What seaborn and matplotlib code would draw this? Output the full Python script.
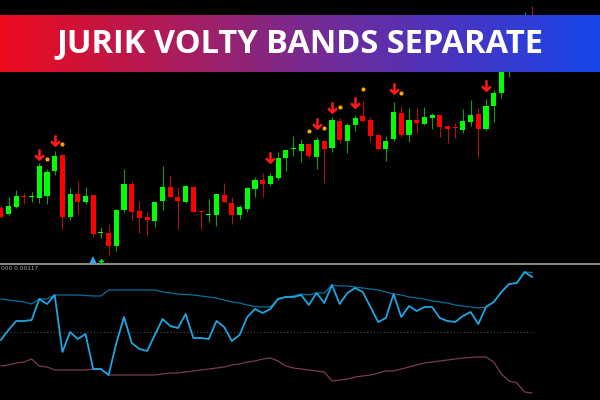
import numpy as np
import pandas as pd
import matplotlib
matplotlib.use("Agg")
import matplotlib.pyplot as plt
from matplotlib.path import Path
from matplotlib.colors import LinearSegmentedColormap
from matplotlib.lines import Line2D
import seaborn as sns

# -----------------------------
# Data
# -----------------------------
# price pane (units ~ pixels above the pane bottom)
opens = [55, 49, 56, 66.5, 66, 65, 67, 92, 108, 46, 69, 61, 68, 30, 30, 17, 53, 79, 52, 46,
         42, 62, 76, 66, 61, 76, 51.5, 48, 48, 68, 60, 48, 54, 74, 83, 79, 85, 105, 114, 112,
         119, 106, 122, 115, 142, 122, 138, 147, 143, 128, 114, 124, 150, 128, 143, 139, 145, 148, 137, 135.5,
         133, 141, 149, 134, 157, 170, 195, 215, 233, 247]
highs = [57, 66, 73, 70, 71, 100, 94, 112, 108, 75, 82, 76, 68, 36, 39, 54, 94, 82, 62, 51,
         62, 97, 88, 76, 78, 76, 53, 64, 69, 80, 66, 58, 76, 86, 90, 90, 111, 113, 127, 124,
         120, 126, 122, 146, 145, 140, 148, 162, 146, 128, 127, 161, 157, 155, 156, 156, 150, 148, 138, 140,
         154, 163, 155, 164, 173, 208, 221, 241, 251, 257]
lows = [45, 48, 55, 59, 61, 60, 59, 88, 34, 43, 49, 59, 26, 25, 8, 12, 51, 43, 30, 27,
        36, 53, 66, 34, 60, 51, 34, 41, 37, 61, 39, 44, 51, 66, 66, 77, 83, 92, 107, 101,
        105, 94, 80, 111, 120, 110, 132, 141, 121, 114, 102, 122, 126, 121, 130, 138, 134, 126, 120, 125,
        130, 137, 106, 133, 141, 165, 186, 211, 229, 235]
closes = [46, 57, 67, 66, 66.5, 97, 91, 107, 46, 69, 61, 67, 29, 30.5, 17, 53, 79, 51, 45, 43,
          61, 76, 66, 62, 77, 51, 51, 48.5, 69, 61, 48, 56, 75, 83, 79, 87, 105, 113, 114.5, 119,
          107, 123, 114, 143, 123, 138, 145, 142, 127, 114, 122, 151, 128, 143, 140, 146, 148, 136, 134, 135,
          142, 148, 134, 157, 170, 201, 215, 235, 245, 239]

# signal markers: bar index and level
sell_arrow_bars = [5, 7, 35, 41, 43, 46, 51, 63]
sell_arrow_levels = [109, 123, 106, 140, 156, 161, 175, 178]
dot_bars = [6, 8, 40, 42, 44, 47, 52]
dot_levels = [104, 119, 132, 135, 156, 174, 170]
buy_arrow_bars = [12]
buy_arrow_levels = [3]
buy_dot_bars = [13]
buy_dot_levels = [2]

# indicator pane (units ~ pixels above the dotted zero line)
volty_line = [-8, 2, 11, 11, 12, 33, 28, 37, -20, 0, -7, -2, -37, -37, -43, -11, 15, -11, -17, -19,
              -3, 13, 6, 4, 18, -6, -6, -7, 11, 5, -9, -3, 15, 23, 19, 23, 33, 35, 35, 37,
              27, 39, 29, 47, 28, 39, 44, 40, 25, 10, 14, 38, 15, 26, 21, 25, 25, 14, 11, 10,
              16, 20, 8, 25, 30, 40, 48, 49, 60, 55]
upper_band = [33, 32, 31, 30, 28, 33, 33, 37, 37, 37, 37, 36.5, 36, 36, 42, 42, 42, 42, 42, 42,
              42, 40, 39, 38, 37.5, 37, 36, 35, 34, 32, 30, 29, 27, 25.5, 25, 25, 33, 35, 36, 38,
              37, 39, 39, 47, 46, 46, 45, 44, 43, 42, 40, 38, 37, 35, 34, 33, 31, 30, 29, 27,
              26, 25, 24, 25, 30, 40, 48, 49, 60, 59.5]
lower_band = [-34, -33, -31, -30, -27, -34, -35, -38, -38, -38, -38, -38, -37, -37, -43, -43, -43, -43, -43, -43,
              -43, -42, -41, -41, -40, -39, -38, -37, -36, -35, -33, -32, -30, -29, -27, -26, -29, -34, -36, -37,
              -38, -39, -40, -49, -48, -47, -45, -44, -43, -41, -39, -39, -37, -35, -33, -31, -30, -29, -28, -27,
              -26, -25.5, -25, -25, -30, -42, -49, -51, -60, -61]

title_text = "JURIK VOLTY BANDS SEPARATE"
pane_label = "000 0.00117"

# -----------------------------
# Figure
# -----------------------------
sns.set_theme(style="dark", rc={"axes.facecolor": "black", "figure.facecolor": "black"})

W, H = 600, 400
fig = plt.figure(figsize=(6, 4), dpi=100)
fig.patch.set_facecolor("black")

ax = fig.add_axes([0, 137 / H, 1, 263 / H])
ax_ind = fig.add_axes([0, 0, 1, 135 / H])
for a in (ax, ax_ind):
    a.set_facecolor("black")
    a.set_xlim(-0.104, 77.8)
    a.set_xticks([])
    a.set_yticks([])
    for s in a.spines.values():
        s.set_visible(False)
    a.grid(False)

ax.set_ylim(0, 263)
ax_ind.set_ylim(-68, 67)

# candles
df = pd.DataFrame({"open": opens, "high": highs, "low": lows, "close": closes})
df["bar"] = np.arange(len(df))
up = df["close"] >= df["open"]
body_col = np.where(up, "#00ff00", "#ff0000")
wick_col = np.where(up, "#12a012", "#b01010")
ax.vlines(df["bar"], df["low"], df["high"], colors=wick_col, linewidth=0.8, zorder=2)
body_bottom = np.minimum(df["open"], df["close"])
body_h = np.maximum((df["close"] - df["open"]).abs(), 1.2)
ax.bar(df["bar"], body_h, bottom=body_bottom, width=0.66, color=body_col,
       linewidth=0, antialiased=False, zorder=3)

# signals
arrow_down = Path([(0, 1), (0, -1), (-0.85, -0.15), (0, -1), (0.85, -0.15)],
                  [Path.MOVETO, Path.LINETO, Path.MOVETO, Path.LINETO, Path.LINETO])
ax.plot(sell_arrow_bars, sell_arrow_levels, linestyle="none", marker=arrow_down,
        markersize=7.5, markeredgewidth=1.8, color="#ff1a1a", markerfacecolor="none", zorder=4)
ax.plot(dot_bars, dot_levels, linestyle="none", marker="o", markersize=3,
        color="#ffa200", markeredgewidth=0, zorder=4)
ax.plot(buy_arrow_bars, buy_arrow_levels, linestyle="none", marker="^", markersize=6,
        color="#2aa6ff", markeredgewidth=0, zorder=4, clip_on=False)
ax.plot(buy_dot_bars, buy_dot_levels, linestyle="none", marker="P", markersize=3.5,
        color="#00ff00", markeredgewidth=0, zorder=4, clip_on=False)

# indicator pane
ind = pd.DataFrame({"bar": np.arange(len(volty_line)), "volty": volty_line,
                    "upper": upper_band, "lower": lower_band})
ax_ind.axhline(0, color="#4a4a4a", linewidth=0.8, linestyle=(0, (1, 2)), xmax=0.89)
sns.lineplot(data=ind, x="bar", y="upper", ax=ax_ind, color="#0b6f98", linewidth=0.9)
sns.lineplot(data=ind, x="bar", y="lower", ax=ax_ind, color="#7c3a56", linewidth=0.9)
sns.lineplot(data=ind, x="bar", y="volty", ax=ax_ind, color="#1ca6e2", linewidth=1.3)
ax_ind.set_xlabel("")
ax_ind.set_ylabel("")
ax_ind.text(0.002, 0.972, pane_label, transform=ax_ind.transAxes, fontsize=4.2,
            color="#a8a8a8", va="center", ha="left")

# separator between panes
fig.add_artist(Line2D([0, 1], [1 - 263.5 / H] * 2, color="#8c8c8c", linewidth=1.4))

# title banner with horizontal gradient
cmap = LinearSegmentedColormap.from_list(
    "banner", ["#ef0a1c", "#b41a52", "#7a2a8e", "#4a34c0", "#1646ea"])
bax = fig.add_axes([0, 1 - 72 / H, 1, 57 / H], zorder=10)
bax.imshow(np.linspace(0, 1, 600).reshape(1, -1), aspect="auto", cmap=cmap,
           extent=[0, 1, 0, 1])
bax.set_axis_off()
bax.text(0.5, 0.5, title_text, transform=bax.transAxes, ha="center", va="center",
         color="white", fontsize=23.5, fontweight="bold", family="Open Sans")

fig.savefig("out.png", dpi=100, facecolor="black")
